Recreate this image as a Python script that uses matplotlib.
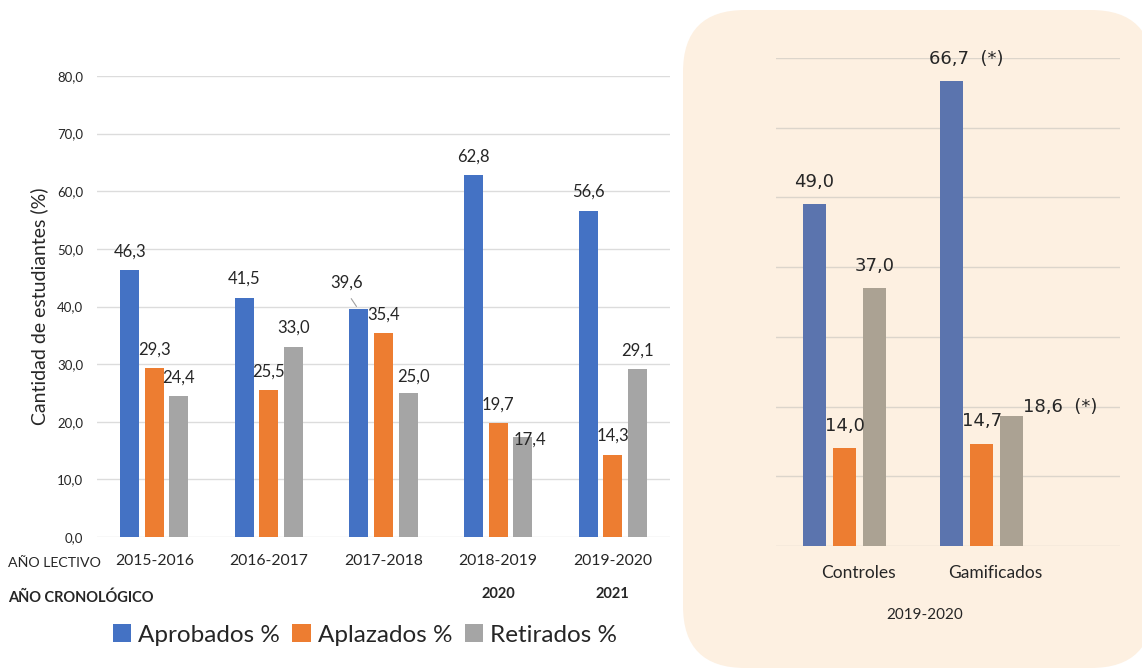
import numpy as np
import matplotlib
matplotlib.use("Agg")
import matplotlib.pyplot as plt
from matplotlib.patches import FancyBboxPatch

plt.rcParams['font.family'] = ['Lato', 'DejaVu Sans']

# Serie histórica por año lectivo
cursos = ['2015-2016', '2016-2017', '2017-2018', '2018-2019', '2019-2020']
anio_crono = ['', '', '', '2020', '2021']
aprobados = [46.3, 41.5, 39.6, 62.8, 56.6]
aplazados = [29.3, 25.5, 35.4, 19.7, 14.3]
retirados = [24.4, 33.0, 25.0, 17.4, 29.1]

# Curso 2019-2020: grupo control vs gamificado
grupos = ['Controles', 'Gamificados']
g_aprobados = [49.0, 66.7]
g_aplazados = [14.0, 14.7]
g_retirados = [37.0, 18.6]
g_marca_aprob = ['', '  (*)']
g_marca_retir = ['', '  (*)']

AZUL, NARANJA, GRIS = '#4472C4', '#ED7D31', '#A5A5A5'
AZUL2, NARANJA2, GRIS2 = '#5B74AE', '#ED7D31', '#ABA293'
TXT = '#262626'


def fmt(v):
    return f'{v:.1f}'.replace('.', ',')


W, H = 1142, 670
fig = plt.figure(figsize=(W / 100, H / 100), dpi=100)

# fondo beige redondeado del panel derecho
bg = fig.add_axes([0, 0, 1, 1], zorder=0)
bg.set_xlim(0, W)
bg.set_ylim(0, H)
bg.axis('off')
bg.add_patch(FancyBboxPatch((683, 2), 470, 658,
                            boxstyle='round,pad=0,rounding_size=62',
                            fc='#FDF0E1', ec='none'))

# ---------- panel izquierdo ----------
ax = fig.add_axes([97 / W, 133 / H, 573 / W, 461 / H], zorder=1)
x = np.arange(len(cursos))
step, bw = 0.214, 0.166
b1 = ax.bar(x - step, aprobados, bw, color=AZUL, zorder=2, label='Aprobados %')
b2 = ax.bar(x, aplazados, bw, color=NARANJA, zorder=2, label='Aplazados %')
b3 = ax.bar(x + step, retirados, bw, color=GRIS, zorder=2, label='Retirados %')
ax.set_xlim(-0.5, len(cursos) - 0.5)
ax.set_ylim(0, 80)
ax.set_yticks(np.arange(0, 81, 10))
ax.set_yticklabels([fmt(v) for v in np.arange(0, 81, 10)], fontsize=9.5, color=TXT)
ax.set_xticks(x)
ax.set_xticklabels(cursos, fontsize=11.3, color=TXT)
ax.tick_params(length=0)
ax.tick_params(axis='y', pad=10)
ax.tick_params(axis='x', pad=12)
ax.grid(axis='y', color='#DCDCDC', lw=1, zorder=0)
for s in ax.spines.values():
    s.set_visible(False)
ax.set_ylabel('Cantidad de estudiantes (%)', fontsize=14, color=TXT, labelpad=6)

# desplazamientos de etiquetas (puntos)
off_default = (0, 13.5)
off_special = {(0, 2): (-9, 19), (2, 2): (4, 12), (2, 3): (5, -2)}
for si, (bars, vals) in enumerate([(b1, aprobados), (b2, aplazados), (b3, retirados)]):
    for ci, (r, v) in enumerate(zip(bars, vals)):
        dx, dy = off_special.get((si, ci), off_default)
        ax.annotate(fmt(v), (r.get_x() + r.get_width() / 2, v),
                    xytext=(dx, dy), textcoords='offset points',
                    ha='center', va='center', fontsize=12, color=TXT, zorder=4)
# línea guía de 39,6
r = b1[2]
ax.annotate('', (r.get_x() + r.get_width() * 0.45, aprobados[2]),
            xytext=(-6, 9), textcoords='offset points',
            arrowprops=dict(arrowstyle='-', color='#A0A0A0', lw=0.8))

fig.text(8 / W, 1 - 563 / H, 'AÑO LECTIVO', fontsize=10.2, color=TXT, va='center')
fig.text(8 / W, 1 - 598 / H, 'AÑO CRONOLÓGICO', fontsize=10.5, color=TXT,
         va='center', fontweight='bold')
for xi, a in zip(x, anio_crono):
    if a:
        ax.annotate(a, (xi, 0), xytext=(0, -41), textcoords='offset points',
                    ha='center', va='center', fontsize=10.5, fontweight='bold', color=TXT)

fig.legend(handles=[b1, b2, b3], loc='center', bbox_to_anchor=(365 / W, 1 - 635 / H),
           ncol=3, frameon=False, fontsize=17.5, handlelength=0.75, handleheight=0.75,
           handletextpad=0.3, columnspacing=0.5, labelcolor=TXT)

# ---------- panel derecho ----------
ax2 = fig.add_axes([776 / W, 124 / H, 344 / W, 488 / H], zorder=1)
ax2.patch.set_visible(False)
gx = np.arange(len(grupos))
gstep, gbw = 0.219, 0.168
c1 = ax2.bar(gx - gstep, g_aprobados, gbw, color=AZUL2, zorder=2)
c2 = ax2.bar(gx, g_aplazados, gbw, color=NARANJA2, zorder=2)
c3 = ax2.bar(gx + gstep, g_retirados, gbw, color=GRIS2, zorder=2)
ax2.set_xlim(-0.5, 2.01)
ax2.set_ylim(0, 70)
ax2.set_yticks(np.arange(0, 71, 10))
ax2.set_yticklabels([])
ax2.set_xticks(gx + 0.1)
ax2.set_xticklabels(grupos, fontsize=12.5, color=TXT)
ax2.tick_params(length=0)
ax2.tick_params(axis='x', pad=14)
ax2.grid(axis='y', color='#DCD5CB', lw=1, zorder=0)
for s in ax2.spines.values():
    s.set_visible(False)

lab = dict(fontsize=13, color=TXT, family=['DejaVu Sans'], va='center', zorder=4)
for bars, vals, marcas in [(c1, g_aprobados, g_marca_aprob),
                           (c2, g_aplazados, ['', '']),
                           (c3, g_retirados, g_marca_retir)]:
    for r, v, m in zip(bars, vals, marcas):
        cx = r.get_x() + r.get_width() / 2
        if m and bars is c3:
            ax2.annotate(fmt(v) + m, (r.get_x() + r.get_width(), v),
                         xytext=(0, 7), textcoords='offset points', ha='left', **lab)
        elif m:
            ax2.annotate(fmt(v) + m, (cx, v), xytext=(-16, 16),
                         textcoords='offset points', ha='left', **lab)
        else:
            ax2.annotate(fmt(v), (cx, v), xytext=(0, 16),
                         textcoords='offset points', ha='center', **lab)

fig.text(925 / W, 1 - 615 / H, '2019-2020', fontsize=11, color=TXT,
         ha='center', va='center')

fig.savefig('out.png', dpi=100, facecolor='white')
